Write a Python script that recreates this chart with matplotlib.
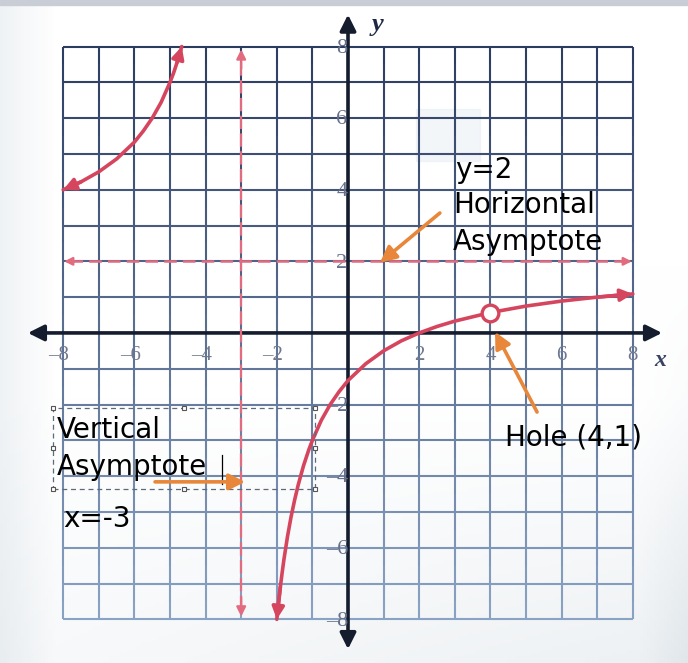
import numpy as np
import matplotlib
matplotlib.use("Agg")
import matplotlib.pyplot as plt
from matplotlib.collections import LineCollection

# ---- data ----
# left branch of the curve (x < -3)
left_x = [-8.0, -7.5, -7.0, -6.5, -6.0, -5.75, -5.5, -5.25, -5.0, -4.9, -4.8, -4.67]
left_y = [4.0, 4.22, 4.5, 4.86, 5.33, 5.64, 6.0, 6.44, 7.0, 7.26, 7.56, 8.0]
# right branch of the curve (x > -3)
right_x = [-2.0, -1.95, -1.9, -1.85, -1.8, -1.7, -1.6, -1.5, -1.4, -1.25, -1.1, -1.0,
           -0.75, -0.5, -0.25, 0.0, 0.5, 1.0, 1.5, 2.0, 2.5, 3.0, 4.0, 5.0, 6.0, 7.0, 8.0]
right_y = [-8.0, -7.52, -7.09, -6.7, -6.33, -5.69, -5.14, -4.67, -4.25, -3.71, -3.26, -3.0,
           -2.44, -2.0, -1.64, -1.33, -0.86, -0.5, -0.22, 0.0, 0.18, 0.33, 0.57, 0.75, 0.89, 1.0, 1.09]
hole = (4.0, 0.57)
v_asym = -3
h_asym = 2
x_ticks = [-8, -6, -4, -2, 2, 4, 6, 8]
y_ticks = [8, 6, 4, 2, -2, -4, -6, -8]

red = "#d6455e"
red_light = "#e26b80"
orange = "#e8873a"
axis_col = "#141c2e"
txt_font = ["DejaVu Sans"]

fig = plt.figure(figsize=(6.88, 6.63), dpi=100)
ax = fig.add_axes([0, 0, 1, 1])
ax.set_xlim(-9.775, 9.55)
ax.set_ylim(-9.22, 9.30)
ax.axis("off")

# photo-like background
H, W = 200, 200
t = np.linspace(0, 1, H)[:, None]
s = np.linspace(0, 1, W)[None, :]
dark = 0.07 * np.clip((t - 0.6) / 0.4, 0, 1) * (0.4 + 0.6 * s)
dark = dark + 0.06 * np.clip((0.08 - s) / 0.08, 0, 1)
dark = dark + 0.05 * np.clip((s - 0.93) / 0.07, 0, 1) * np.clip((t - 0.4) / 0.6, 0, 1)
bg = np.ones((H, W, 3)) - dark[..., None] * np.array([1.0, 0.8, 0.65])
ax.imshow(bg, extent=(-9.775, 9.55, -9.22, 9.30), aspect="auto", zorder=0)
ax.axhspan(9.16, 9.30, color="#c8cdd6", zorder=1)
# faint smudge in photo
ax.add_patch(plt.Rectangle((1.9, 4.8), 1.8, 1.45, color="#dbe6ee", alpha=0.35, zorder=1))

# grid, darker at the top, lighter at the bottom
def grid_col(y):
    f = (8 - y) / 16.0
    c0 = np.array([0x2c, 0x3c, 0x60]) / 255
    c1 = np.array([0x8a, 0xa3, 0xc4]) / 255
    return tuple(c0 + (c1 - c0) * f)

segs, cols = [], []
for gx in range(-8, 9):
    for gy in np.arange(-8, 8, 0.5):
        segs.append([(gx, gy), (gx, gy + 0.5)])
        cols.append(grid_col(gy + 0.25))
for gy in range(-8, 9):
    segs.append([(-8, gy), (8, gy)])
    cols.append(grid_col(gy))
ax.add_collection(LineCollection(segs, colors=cols, linewidths=1.5, zorder=2))

# axes with arrows
ax.annotate("", xy=(8.9, 0), xytext=(-9.07, 0),
            arrowprops=dict(arrowstyle="<|-|>", color=axis_col, lw=2.6, mutation_scale=24), zorder=3)
ax.annotate("", xy=(0, 8.97), xytext=(0, -8.91),
            arrowprops=dict(arrowstyle="<|-|>", color=axis_col, lw=2.6, mutation_scale=24), zorder=3)
ax.text(8.78, -0.78, "x", fontsize=17, style="italic", fontweight="bold",
        family="Liberation Serif", color="#3a4460", ha="center", va="center", zorder=4)
ax.text(0.82, 8.62, "y", fontsize=19, style="italic", fontweight="bold",
        family="Liberation Serif", color="#1e2846", ha="center", va="center", zorder=4)

# tick labels
for v in x_ticks:
    ax.text(v - (0.12 if v < 0 else 0.0), -0.62, str(v).replace("-", "\u2013"), fontsize=15,
            family="Liberation Serif", color="#6f7890", ha="center", va="center", zorder=4)
for v in y_ticks:
    ax.text(-0.17 if v > 0 else -0.3, v - 0.05, str(v).replace("-", "\u2013"), fontsize=16,
            family="Liberation Serif", color="#66708a", ha="center", va="center", zorder=4)

# asymptotes
ax.plot([v_asym, v_asym], [-7.7, 7.7], color=red_light, lw=1.6, ls=(0, (6, 2)), zorder=5)
ax.annotate("", xy=(v_asym, 8.0), xytext=(v_asym, 7.3),
            arrowprops=dict(arrowstyle="-|>", color=red_light, lw=1.6, mutation_scale=14), zorder=5)
ax.annotate("", xy=(v_asym, -8.0), xytext=(v_asym, -7.3),
            arrowprops=dict(arrowstyle="-|>", color=red_light, lw=1.6, mutation_scale=14), zorder=5)
ax.plot([-7.8, 7.8], [h_asym, h_asym], color=red_light, lw=1.8, ls=(0, (5, 2.5)), zorder=5)
ax.annotate("", xy=(-8.05, h_asym), xytext=(-7.6, h_asym),
            arrowprops=dict(arrowstyle="-|>", color=red_light, lw=1.6, mutation_scale=12), zorder=5)
ax.annotate("", xy=(8.05, h_asym), xytext=(7.6, h_asym),
            arrowprops=dict(arrowstyle="-|>", color=red_light, lw=1.6, mutation_scale=12), zorder=5)

# the curve
ax.plot(left_x, left_y, color=red, lw=2.6, solid_capstyle="round", zorder=6)
ax.plot(right_x, right_y, color=red, lw=2.6, solid_capstyle="round", zorder=6)
for (x0, y0), (x1, y1) in [((left_x[1], left_y[1]), (left_x[0], left_y[0])),
                           ((left_x[-2], left_y[-2]), (left_x[-1], left_y[-1])),
                           ((right_x[2], right_y[2]), (right_x[0], right_y[0])),
                           ((right_x[-2], right_y[-2]), (right_x[-1], right_y[-1]))]:
    ax.annotate("", xy=(x1, y1), xytext=(x0, y0),
                arrowprops=dict(arrowstyle="-|>", color=red, lw=2.6, mutation_scale=18,
                                shrinkA=0, shrinkB=0), zorder=6)
ax.plot(*hole, "o", ms=12, mfc="white", mec=red, mew=2.4, zorder=7)

# annotation text
fs = 20
ax.text(3.01, 4.55, "y=2", fontsize=fs, family=txt_font, color="black", va="center", zorder=8)
ax.text(2.95, 3.58, "Horizontal", fontsize=fs, family=txt_font, color="black", va="center", zorder=8)
ax.text(2.95, 2.54, "Asymptote", fontsize=fs, family=txt_font, color="black", va="center", zorder=8)
ax.text(4.41, -2.93, "Hole (4,1)", fontsize=fs, family=txt_font, color="black", va="center", zorder=8)
ax.text(-8.17, -2.71, "Vertical", fontsize=fs, family=txt_font, color="black", va="center", zorder=8)
ax.text(-8.17, -3.74, "Asymptote", fontsize=fs, family=txt_font, color="black", va="center", zorder=8)
ax.text(-8.0, -5.2, "x=-3", fontsize=fs, family=txt_font, color="black", va="center", zorder=8)
ax.plot([-3.54, -3.54], [-3.41, -4.22], color="black", lw=0.9, zorder=8)

# selected text box
bx0, bx1, by0, by1 = -8.29, -0.93, -4.36, -2.09
ax.plot([bx0, bx1, bx1, bx0, bx0], [by0, by0, by1, by1, by0], color="#5c6b7c", lw=0.9,
        ls=(0, (4, 3)), zorder=8)
bxm, bym = (bx0 + bx1) / 2, (by0 + by1) / 2
ax.plot([bx0, bxm, bx1, bx0, bx1, bx0, bxm, bx1], [by1, by1, by1, bym, bym, by0, by0, by0],
        "s", ms=3.5, mfc="white", mec="#555555", mew=0.8, zorder=9)

# orange pointer arrows
for (x0, y0), (x1, y1) in [((2.58, 3.35), (0.90, 1.96)),
                           ((5.31, -2.21), (4.13, 0.03)),
                           ((-5.42, -4.16), (-2.89, -4.16))]:
    ax.annotate("", xy=(x1, y1), xytext=(x0, y0),
                arrowprops=dict(arrowstyle="-|>", color=orange, lw=2.6, mutation_scale=24,
                                shrinkA=0, shrinkB=0), zorder=9)

fig.savefig("out.png", dpi=100)
